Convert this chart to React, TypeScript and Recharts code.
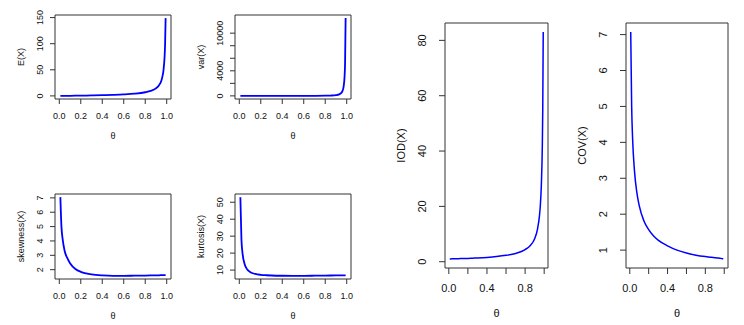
import React from "react";
import { LineChart, Line, XAxis, YAxis, ReferenceArea } from "recharts";

// theta grid and moments
const theta = [0.01, 0.02, 0.03, 0.05, 0.075, 0.1, 0.15, 0.2, 0.25, 0.3, 0.4, 0.5, 0.6, 0.7, 0.8, 0.85, 0.9, 0.93, 0.95, 0.96, 0.97, 0.98, 0.985, 0.99];
const meanX = [0.02, 0.04, 0.06, 0.1, 0.16, 0.22, 0.35, 0.5, 0.67, 0.86, 1.3, 2.0, 2.9, 4.3, 7.0, 9.5, 14.5, 21, 29, 37, 49, 74, 99, 149];
const varX = [0.02, 0.04, 0.06, 0.105, 0.17, 0.24, 0.4, 0.6, 0.85, 1.16, 2.0, 3.7, 6.7, 12.9, 31, 54, 120, 248, 480, 760, 1350, 3030, 5450, 12400];
const skewX = [7.05, 5.0, 4.2, 3.3, 2.8, 2.45, 2.05, 1.85, 1.74, 1.67, 1.6, 1.57, 1.57, 1.58, 1.59, 1.6, 1.61, 1.61, 1.62, 1.62, 1.62, 1.62, 1.62, 1.62];
const kurtX = [53, 28, 20, 13.5, 10.3, 8.9, 7.7, 7.2, 6.95, 6.8, 6.65, 6.6, 6.62, 6.68, 6.75, 6.8, 6.85, 6.88, 6.9, 6.9, 6.92, 6.92, 6.93, 6.93];
const iodX = [1.01, 1.02, 1.03, 1.05, 1.07, 1.1, 1.15, 1.2, 1.27, 1.35, 1.55, 1.85, 2.3, 3.0, 4.4, 5.7, 8.3, 11.8, 16.5, 20.5, 27.5, 41, 55, 83];
const covX = [7.07, 5.0, 4.1, 3.2, 2.6, 2.24, 1.81, 1.57, 1.4, 1.28, 1.12, 1.0, 0.92, 0.86, 0.82, 0.805, 0.79, 0.78, 0.775, 0.77, 0.765, 0.76, 0.76, 0.755];

const thetaTicks = [0, 0.2, 0.4, 0.6, 0.8, 1];

const rows = theta.map((t, i) => ({
  theta: t,
  mean: meanX[i],
  variance: varX[i],
  skew: skewX[i],
  kurt: kurtX[i],
  iod: iodX[i],
  cov: covX[i],
}));

const W = 744;
const H = 325;
const FONT = '"Liberation Sans", Arial, Helvetica, sans-serif';
const INK = "#111";

// R-style axis range: data range padded by 4% each side
function padRange(vals: number[]): [number, number] {
  const lo = Math.min(...vals);
  const hi = Math.max(...vals);
  const p = (hi - lo) * 0.04;
  return [lo - p, hi + p];
}

type Box = { l: number; t: number; r: number; b: number };

interface PanelDef {
  box: Box;
  dataKey: string;
  values: number[];
  yTicks: number[];
  yShown: number[];
  xShown: number[];
  title: string;
  small: boolean;
}

const panels: PanelDef[] = [
  { box: { l: 55, t: 15, r: 171, b: 99 }, dataKey: "mean", values: meanX, yTicks: [0, 50, 100, 150], yShown: [0, 50, 100, 150], xShown: thetaTicks, title: "E(X)", small: true },
  { box: { l: 235, t: 15, r: 351, b: 99 }, dataKey: "variance", values: varX, yTicks: [0, 2000, 4000, 6000, 8000, 10000], yShown: [0, 4000, 10000], xShown: thetaTicks, title: "var(X)", small: true },
  { box: { l: 55, t: 194, r: 171, b: 279 }, dataKey: "skew", values: skewX, yTicks: [2, 3, 4, 5, 6, 7], yShown: [2, 3, 4, 5, 6, 7], xShown: thetaTicks, title: "skewness(X)", small: true },
  { box: { l: 235, t: 194, r: 351, b: 279 }, dataKey: "kurt", values: kurtX, yTicks: [10, 20, 30, 40, 50], yShown: [10, 20, 30, 40, 50], xShown: thetaTicks, title: "kurtosis(X)", small: true },
  { box: { l: 445, t: 23, r: 548, b: 268 }, dataKey: "iod", values: iodX, yTicks: [0, 20, 40, 60, 80], yShown: [0, 20, 40, 60, 80], xShown: [0, 0.4, 0.8], title: "IOD(X)", small: false },
  { box: { l: 626, t: 23, r: 728, b: 268 }, dataKey: "cov", values: covX, yTicks: [1, 2, 3, 4, 5, 6, 7], yShown: [1, 2, 3, 4, 5, 6, 7], xShown: [0, 0.4, 0.8], title: "COV(X)", small: false },
];

function Panel({ p }: { p: PanelDef }) {
  const { box } = p;
  const [y0, y1] = padRange(p.values);
  const fs = p.small ? 9 : 11;
  const tickLen = p.small ? 5 : 6;
  const yLabX = box.l - (p.small ? 15 : 23);
  const xLabY = box.b + (p.small ? 17 : 20);

  return (
    <div style={{ position: "absolute", left: 0, top: 0 }}>
      <LineChart
        width={W}
        height={H}
        data={rows}
        margin={{ left: box.l - 1, top: box.t, right: W - box.r, bottom: H - box.b - 1 }}
      >
        <XAxis
          dataKey="theta"
          type="number"
          domain={[-0.04, 1.04]}
          allowDataOverflow
          ticks={thetaTicks}
          interval={0}
          height={1}
          axisLine={false}
          tickSize={tickLen}
          tickLine={{ stroke: "#333" }}
          tick={(tp: any) => (
            <text x={tp.x} y={xLabY} textAnchor="middle" dominantBaseline="central" fontSize={fs} fontFamily={FONT} fill={INK}>
              {p.xShown.includes(tp.payload.value) ? tp.payload.value.toFixed(1) : ""}
            </text>
          )}
        />
        <YAxis
          type="number"
          domain={[y0, y1]}
          allowDataOverflow
          ticks={p.yTicks}
          interval={0}
          width={1}
          axisLine={false}
          tickSize={tickLen}
          tickLine={{ stroke: "#333" }}
          tick={(tp: any) => (
            <text
              x={yLabX}
              y={tp.y}
              transform={`rotate(-90, ${yLabX}, ${tp.y})`}
              textAnchor="middle"
              dominantBaseline="central"
              fontSize={fs}
              fontFamily={FONT}
              fill={INK}
            >
              {p.yShown.includes(tp.payload.value) ? String(tp.payload.value) : ""}
            </text>
          )}
        />
        <ReferenceArea x1={-0.04} x2={1.04} y1={y0} y2={y1} fill="none" fillOpacity={0} stroke="#333" strokeWidth={1} ifOverflow="visible" />
        <Line
          dataKey={p.dataKey}
          type="monotone"
          stroke="#0000ff"
          strokeWidth={p.small ? 1.8 : 1.5}
          dot={false}
          isAnimationActive={false}
        />
      </LineChart>
    </div>
  );
}

function Titles() {
  return (
    <svg width={W} height={H} style={{ position: "absolute", left: 0, top: 0, pointerEvents: "none" }}>
      {panels.map((p) => {
        const fs = p.small ? 9 : 11;
        const tx = p.box.l - (p.small ? 34.5 : 44);
        const ty = (p.box.t + p.box.b) / 2;
        const cx = (p.box.l + p.box.r) / 2;
        const thY = p.box.b + (p.small ? 37 : 45);
        return (
          <g key={p.title} fontFamily={FONT} fill={INK} fontSize={fs}>
            <text x={tx} y={ty} transform={`rotate(-90, ${tx}, ${ty})`} textAnchor="middle" dominantBaseline="central">
              {p.title}
            </text>
            <text x={cx} y={thY} textAnchor="middle" dominantBaseline="central">
              θ
            </text>
          </g>
        );
      })}
    </svg>
  );
}

export default function App() {
  return (
    <div style={{ position: "absolute", left: 0, top: 0, width: W, height: H, background: "#fff" }}>
      {panels.map((p) => (
        <Panel key={p.dataKey} p={p} />
      ))}
      <Titles />
    </div>
  );
}
